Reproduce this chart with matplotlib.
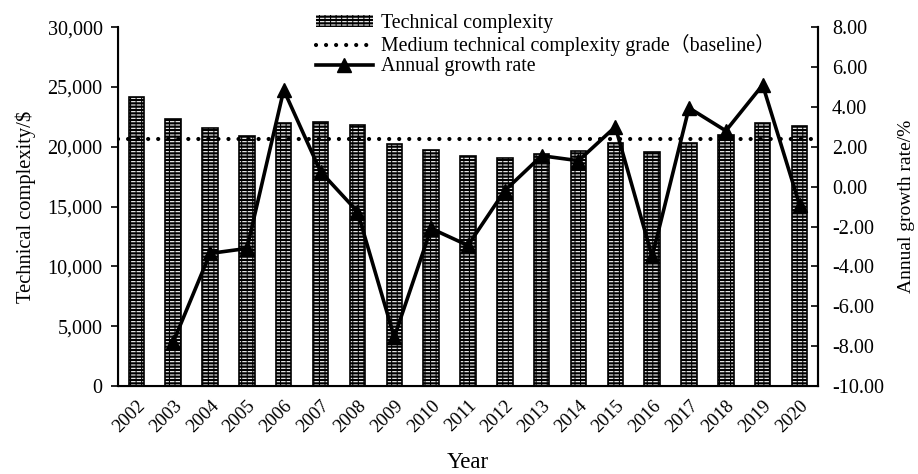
import matplotlib
matplotlib.use("Agg")
import matplotlib.pyplot as plt
from matplotlib.patches import Patch
from matplotlib.lines import Line2D
from matplotlib.ticker import FuncFormatter
import numpy as np

years = ["2002", "2003", "2004", "2005", "2006", "2007", "2008", "2009", "2010", "2011",
         "2012", "2013", "2014", "2015", "2016", "2017", "2018", "2019", "2020"]
complexity = [24150, 22300, 21600, 20900, 21950, 22100, 21800, 20200, 19750, 19200,
              19100, 19400, 19650, 20300, 19600, 20300, 20950, 22000, 21700]
baseline_value = 20650
growth_years = years[1:]
growth = [-7.8, -3.35, -3.1, 4.85, 0.75, -1.25, -7.55, -2.1, -2.95,
          -0.2, 1.55, 1.3, 3.0, -3.5, 3.95, 2.8, 5.1, -0.9]

plt.rcParams['font.family'] = ['Liberation Serif', 'Noto Sans CJK SC']
plt.rcParams['font.size'] = 14.3
plt.rcParams['hatch.linewidth'] = 0.8

fig = plt.figure(figsize=(9.18, 4.74), dpi=100)
ax = fig.add_axes([0.1285, 0.1857, 0.7625, 0.757])
x = np.arange(len(years))
bw = 0.42
h1 = '-----'
h2 = '|||'
ax.bar(x, complexity, width=bw, color='black', edgecolor='white', hatch=h1, linewidth=0, zorder=2)
ax.bar(x, complexity, width=bw, fill=False, edgecolor='black', hatch=h2, linewidth=0, zorder=2.5)
ax.bar(x, complexity, width=bw, fill=False, edgecolor='black', linewidth=1.2, zorder=3)
ax.axhline(baseline_value, color='black', linestyle=(0, (0.01, 2.4)), linewidth=3,
           dash_capstyle='round', zorder=4)
ax.set_xlim(-0.5, len(years) - 0.5)
ax.set_ylim(0, 30000)
ax.set_yticks(np.arange(0, 30001, 5000))
ax.yaxis.set_major_formatter(FuncFormatter(lambda v, p: f"{int(v):,}"))
ax.set_xticks(x)
ax.set_xticklabels(years, rotation=45, ha='right', rotation_mode='anchor', fontsize=13.5)
ax.tick_params(axis='x', length=0, pad=8)
ax.tick_params(axis='y', direction='out', length=5, width=1.2, labelsize=14.5, pad=6)
ax.spines['top'].set_visible(False)
for s in ['left', 'bottom', 'right']:
    ax.spines[s].set_linewidth(1.5)
ax.set_ylabel("Technical complexity/\\$", fontsize=14.8, labelpad=8)
ax.set_xlabel("Year", fontsize=16.5, labelpad=12)

ax2 = ax.twinx()
gx = np.arange(1, len(years))
ax2.plot(gx, growth, color='black', linewidth=2.6, marker='^', markersize=10, zorder=5)
ax2.set_ylim(-10, 8)
ax2.set_yticks(np.arange(-10, 8.01, 2))
ax2.yaxis.set_major_formatter(FuncFormatter(lambda v, p: f"{v:.2f}"))
ax2.tick_params(axis='y', direction='in', length=5, width=1.2, pad=10, labelsize=14.5)
ax2.spines['top'].set_visible(False)
ax2.spines['right'].set_linewidth(1.5)
ax2.set_ylabel("Annual growth rate/%", fontsize=14, labelpad=10)

bar_handle = (Patch(facecolor='black', edgecolor='white', hatch=h1, linewidth=0),
              Patch(fill=False, edgecolor='black', hatch=h2, linewidth=0))
handles = [bar_handle,
           Line2D([], [], color='black', linestyle=(0, (0.01, 2.4)), linewidth=3, dash_capstyle='round'),
           Line2D([], [], color='black', linewidth=2.6, marker='^', markersize=10)]
labels = ["Technical complexity", "Medium technical complexity grade（baseline）", "Annual growth rate"]
fig.legend(handles, labels, loc='upper center', bbox_to_anchor=(0.594, 1.0), frameon=False,
           handlelength=2.9, handleheight=0.5, labelspacing=0.05, handletextpad=0.4, borderpad=0.2)

fig.savefig("out.png", dpi=100)
